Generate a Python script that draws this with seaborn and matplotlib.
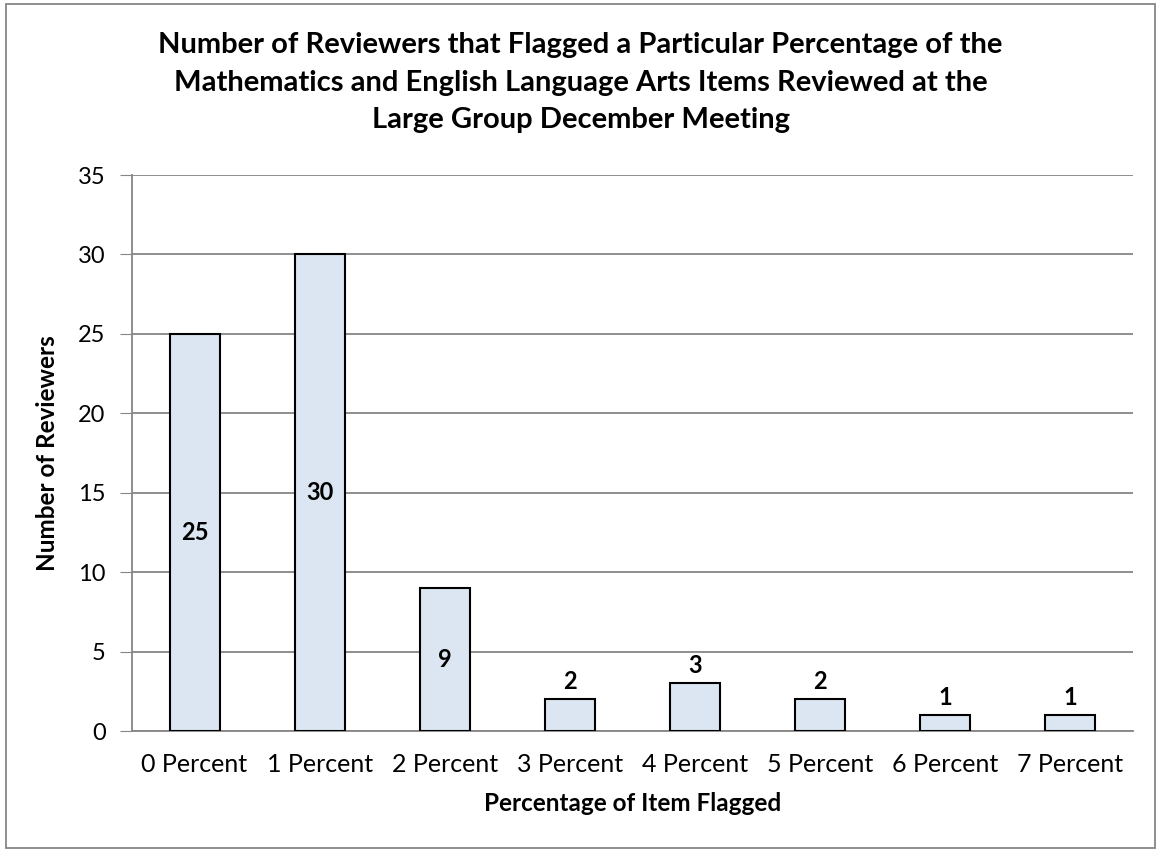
import pandas as pd
import numpy as np
import matplotlib
matplotlib.use('Agg')
import matplotlib.pyplot as plt
import seaborn as sns

sns.set_style('white')
plt.rcParams['font.family'] = ['Lato', 'DejaVu Sans']
plt.rcParams['text.color'] = 'black'
plt.rcParams['axes.labelcolor'] = 'black'
plt.rcParams['xtick.labelcolor'] = 'black'
plt.rcParams['ytick.labelcolor'] = 'black'

categories = ['0 Percent', '1 Percent', '2 Percent', '3 Percent',
              '4 Percent', '5 Percent', '6 Percent', '7 Percent']
reviewers = [25, 30, 9, 2, 3, 2, 1, 1]

data = pd.DataFrame({'pct': categories, 'n': reviewers})

fig = plt.figure(figsize=(11.61, 8.52), dpi=100)
ax = fig.add_axes([0.1137, 0.142, 0.862, 0.6526])

sns.barplot(data=data, x='pct', y='n', color='#dce6f2', edgecolor='black',
            linewidth=1.5, width=0.4, saturation=1, ax=ax, zorder=3)

ax.set_ylim(0, 35)
ax.set_yticks(range(0, 36, 5))
ax.set_xlim(-0.5, len(categories) - 0.5)
ax.yaxis.grid(True, color='#868686', linewidth=1.3, zorder=0)
ax.xaxis.grid(False)
for s in ['top', 'right']:
    ax.spines[s].set_visible(False)
ax.spines['left'].set_color('#868686')
ax.spines['bottom'].set_color('#868686')
ax.spines['left'].set_linewidth(1.3)
ax.spines['bottom'].set_linewidth(1.3)
ax.tick_params(axis='y', left=True, length=9, color='#868686', labelcolor='black', labelsize=17, pad=10)
ax.tick_params(axis='x', bottom=False, labelcolor='black', labelsize=18, pad=12)

# value labels: inside the tall bars, on top of the short ones
for i, v in enumerate(reviewers):
    if v >= 9:
        ax.text(i, v / 2, str(v), ha='center', va='center', fontsize=17, fontweight='bold', zorder=4)
    else:
        ax.text(i, v + 0.4, str(v), ha='center', va='bottom', fontsize=17, fontweight='bold', zorder=4)

ax.set_xlabel('Percentage of Item Flagged', fontsize=17.5, fontweight='bold', labelpad=12)
ax.set_ylabel('Number of Reviewers', fontsize=17.5, fontweight='bold', labelpad=14)

fig.suptitle('Number of Reviewers that Flagged a Particular Percentage of the\n'
             'Mathematics and English Language Arts Items Reviewed at the\n'
             'Large Group December Meeting',
             x=0.5, y=0.962, fontsize=21, fontweight='bold', linespacing=1.55)

# outer chart border
fig.patches.append(plt.Rectangle((0.005, 0.005), 0.99, 0.99, transform=fig.transFigure,
                                 fill=False, edgecolor='#868686', linewidth=1.3))

fig.savefig('out.png', dpi=100)
